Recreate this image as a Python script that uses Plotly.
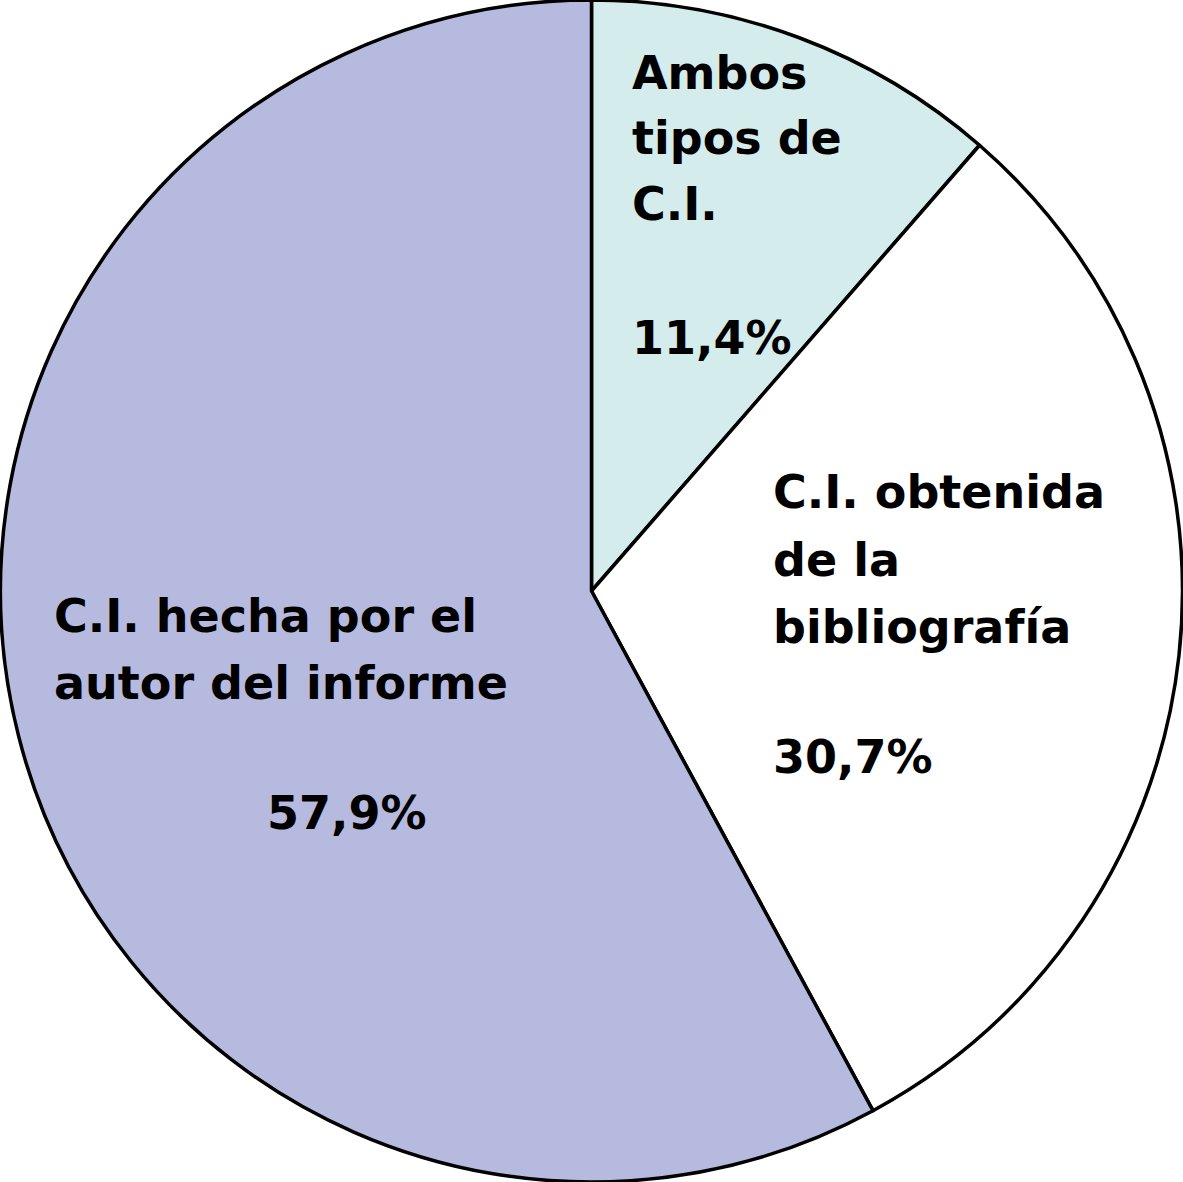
import plotly.graph_objects as go

categories = ["Ambos tipos de C.I.", "C.I. obtenida de la bibliografía", "C.I. hecha por el autor del informe"]
values = [11.4, 30.7, 57.9]
colors = ["#d4ecec", "#ffffff", "#b6badf"]
label_lines = [
    ["Ambos", "tipos de", "C.I."],
    ["C.I. obtenida", "de la", "bibliografía"],
    ["C.I. hecha por el", "autor del informe"],
]

def fmt(v):
    return f"{v:.1f}".replace(".", ",") + "%"

fig = go.Figure(go.Pie(
    labels=categories,
    values=values,
    sort=False,
    direction="clockwise",
    rotation=0,
    marker=dict(colors=colors, line=dict(color="black", width=3.5)),
    textinfo="none",
    hoverinfo="label+percent",
    showlegend=False,
    domain=dict(x=[0, 1], y=[0, 1]),
))

font = dict(family="DejaVu Sans, sans-serif", size=46, color="black")
W, H = 1183, 1182
# left x and vertical centers (px) of each text line
label_x = [630, 771, 52]
label_y = [[73, 138, 204], [492, 560, 627], [616, 683]]
pct_pos = [(630, 338), (771, 757), (265, 813)]

def add_text(txt, xpx, ypx):
    fig.add_annotation(x=xpx / W, y=1 - ypx / H, xref="paper", yref="paper",
                       xanchor="left", yanchor="middle", align="left",
                       text="<b>" + txt + "</b>", showarrow=False, font=font)

for i in range(3):
    for line, yy in zip(label_lines[i], label_y[i]):
        add_text(line, label_x[i], yy)
    add_text(fmt(values[i]), pct_pos[i][0], pct_pos[i][1])

fig.update_layout(width=W, height=H, margin=dict(l=0, r=0, t=0, b=0),
                  paper_bgcolor="white", plot_bgcolor="white")
fig.write_html("out.html", config={"displayModeBar": False},
               post_script="document.body.style.margin='0';")
